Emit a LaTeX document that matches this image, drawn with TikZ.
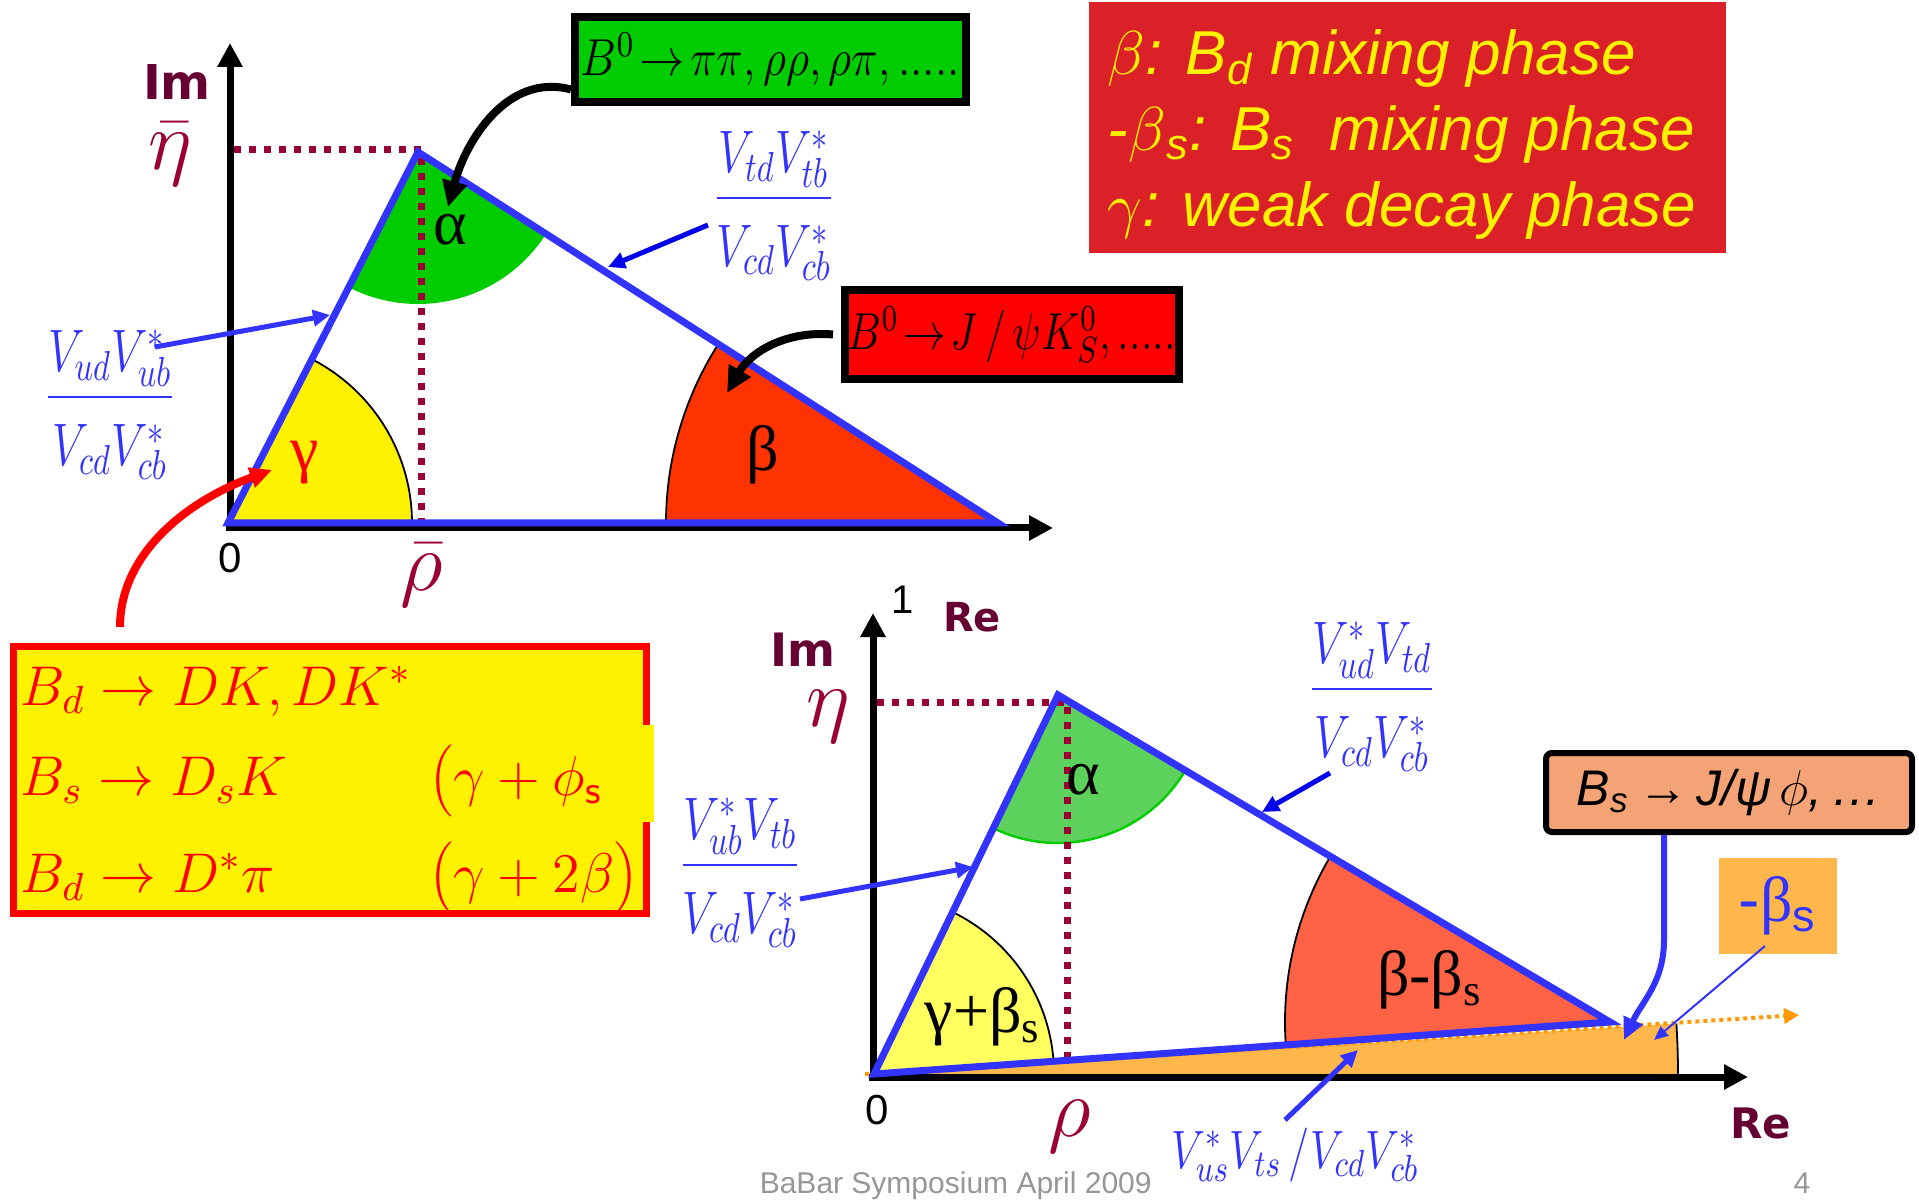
\documentclass[tikz,border=0pt]{standalone}
\usepackage{fix-cm}
\usepackage{graphicx}
\usepackage[no-math]{fontspec}
\setmainfont{Liberation Sans}
\newfontfamily\grk{Liberation Serif}
\newfontfamily\axfont{DejaVu Sans}
\usetikzlibrary{arrows.meta}

\definecolor{triblue}{RGB}{51,51,255}
\definecolor{pureblue}{RGB}{0,0,235}
\definecolor{etared}{RGB}{153,0,51}
\definecolor{axmaroon}{RGB}{102,0,51}
\definecolor{agreen}{RGB}{0,204,0}
\definecolor{bred}{RGB}{255,51,0}
\definecolor{panelred}{RGB}{218,33,40}
\definecolor{salmon}{RGB}{243,163,118}
\definecolor{ofill}{RGB}{255,183,76}
\definecolor{oline}{RGB}{255,153,0}
\definecolor{lgreen}{RGB}{92,210,92}
\definecolor{lred}{RGB}{255,98,68}
\definecolor{lyellow}{RGB}{255,255,95}
\definecolor{footgray}{RGB}{150,150,150}

\newcommand{\fsz}[1]{\fontsize{#1}{#1}\selectfont}
\newcommand{\narrow}[2]{\scalebox{#1}[1]{#2}}
\newcommand{\ckmfrac}[2]{\narrow{0.77}{$\displaystyle\frac{#1}{\rule{0pt}{1.04em}#2}$}}

\begin{document}
\begin{tikzpicture}[
    x=0.25pt, y=0.25pt,
    axis/.style={line width=1.75pt, -{Triangle[length=6pt,width=6pt]}},
    side/.style={triblue, line width=1.75pt},
    etaline/.style={etared, line width=1.75pt, dash pattern=on 1.75pt off 2pt},
    arcline/.style={black, line width=0.45pt},
    barr/.style={triblue, line width=1.25pt, -{Triangle[length=4.25pt,width=4pt]}},
    darr/.style={barr, pureblue},
    thinb/.style={triblue, line width=0.5pt, -{Triangle[length=3.5pt,width=3pt]}},
    curv/.style={black, line width=2pt, -{Triangle[length=6.5pt,width=6pt]}},
    rarr/.style={red, line width=2pt, -{Triangle[length=5.5pt,width=5pt]}},
    oarr/.style={oline, line width=1pt, dash pattern=on 1pt off 1pt, -{Triangle[length=3.75pt,width=3.75pt]}},
    txt/.style={inner sep=0pt},
    axlab/.style={txt, text=axmaroon, font=\axfont\bfseries\fsz{12}},
    etalab/.style={txt, text=etared, font=\fsz{21}},
    num/.style={txt, font=\fsz{10.5}},
    angl/.style={txt, font=\grk\fsz{16}},
    ckm/.style={txt, text=triblue, font=\fsz{15}},
    decbox/.style={draw=black, line width=2pt, inner sep=0pt, font=\fsz{13}},
    dk/.style={txt, text=red, font=\fsz{14}, anchor=base west}
]
\useasboundingbox (0,0) rectangle (1919,1202);

\coordinate (O1) at (228,679);
\coordinate (A1) at (418,1050);
\coordinate (R1) at (998,679);
\fill[yellow] (O1) -- ++(0:184) arc[start angle=0, end angle=62.9, radius=184] -- cycle;
\draw[arcline] (O1) ++(0:184) arc[start angle=0, end angle=62.9, radius=184];
\fill[agreen] (A1) -- ++(242.9:152) arc[start angle=242.9, end angle=327.4, radius=152] -- cycle;
\fill[bred] (R1) -- ++(147.4:332) arc[start angle=147.4, end angle=180, radius=332] -- cycle;
\draw[arcline] (R1) ++(147.4:332) arc[start angle=147.4, end angle=180, radius=332];
\draw[etaline] (234,1052) -- (421,1052) -- (421,682);
\draw[axis] (226,674) -- (1053,674);
\draw[axis] (230,671) -- (230,1159);
\draw[side] (O1) -- (A1) -- (R1) -- cycle;

\node[axlab] (im1) at (177,1120) {Im};
\node[etalab] (eta1) at (170,1048) {$\bar\eta$};
\node[num] (zero1) at (230,644) {0};
\node[etalab] (rho1) at (422,627) {$\bar\rho$};
\node[angl, text=red] (gam1) at (305,739) {γ};
\node[angl] (alp1) at (450,972) {α};
\node[angl] (bet1) at (763,747) {β};

\node[ckm] (vub) at (110,797) {\ckmfrac{V_{ud}V_{ub}^{*}}{V_{cd}V_{cb}^{*}}};
\node[ckm] (vtb) at (774,996) {\ckmfrac{V_{td}V_{tb}^{*}}{V_{cd}V_{cb}^{*}}};
\coordinate (vubS) at (155,855);
\coordinate (vubT) at (330,887);
\coordinate (vtbS) at (708,977);
\coordinate (vtbT) at (608,935);
\draw[barr] (vubS) -- (vubT);
\draw[darr] (vtbS) -- (vtbT);

\node[decbox, fill=agreen, minimum width=97.75pt, minimum height=21.25pt] (pipi) at (770.5,1142.5)
    {\narrow{0.87}{$B^{0}\!\rightarrow\!\pi\pi, \rho\rho, \rho\pi,.....$}};
\node[decbox, fill=red, minimum width=83.5pt, minimum height=22.25pt] (jpsik) at (1012,867.5)
    {\narrow{0.82}{$B^{0}\!\rightarrow\! J\,/\,\psi K_{S}^{0},.....$}};
\coordinate (alpT) at (448,995);
\coordinate (betT) at (727,809);
\draw[curv] ([yshift=-7.5pt]pipi.west) to[out=165,in=75] (alpT);
\draw[curv] ([xshift=-2pt]jpsik.west) to[out=175,in=60] (betT);

\node[fill=panelred, inner sep=0pt, minimum width=159.25pt, minimum height=62.75pt] (phases) at (1407.5,1074.5) {};
\node[txt, anchor=west, align=left, text=yellow, font=\itshape\fontsize{15.5}{19}\selectfont] (phasetxt) at (1107,1068)
    {$\beta$: B\textsubscript{d} mixing phase\\
     -$\beta$\textsubscript{s}: B\textsubscript{s}\ \ mixing phase\\
     $\gamma$: weak decay phase};

\node[draw=red, line width=1.75pt, fill=yellow, inner sep=0pt, minimum width=158.25pt, minimum height=66.75pt] (dkbox) at (330,422) {};
\fill[yellow] (642,380) rectangle (654,477);
\node[dk] (dk1) at (20,497) {$B_d\rightarrow DK, DK^{*}$};
\node[dk] (dk2) at (20,407) {$B_s\rightarrow D_sK$};
\node[dk] (dk3) at (20,310) {$B_d\rightarrow D^{*}\pi$};
\node[dk] (ph2) at (429,407) {$\Bigl(\gamma + \phi_{\mathsf{s}}$};
\node[dk] (ph3) at (429,310) {$\Bigl(\gamma+2\beta\Bigr)$};
\coordinate (gamT) at (272,732);
\draw[rarr, shorten <=4pt] ([xshift=-52.5pt]dkbox.north) to[out=90,in=200] (gamT);

\coordinate (O2) at (874,128);
\coordinate (A2) at (1058,507);
\coordinate (R2) at (1610,180);
\fill[ofill] (O2) -- ++(0:804) arc[start angle=0, end angle=3.6, radius=804] -- cycle;
\draw[arcline] (O2) ++(0:804) arc[start angle=0, end angle=3.6, radius=804];
\fill[lyellow] (O2) -- ++(4:180) arc[start angle=4, end angle=64.1, radius=180] -- cycle;
\draw[arcline] (O2) ++(4:180) arc[start angle=4, end angle=64.1, radius=180];
\fill[lgreen] (A2) -- ++(244.1:148) arc[start angle=244.1, end angle=329.4, radius=148] -- cycle;
\draw[agreen, line width=0.6pt] (A2) ++(244.1:148) arc[start angle=244.1, end angle=329.4, radius=148];
\fill[lred] (R2) -- ++(149.4:325) arc[start angle=149.4, end angle=184, radius=325] -- cycle;
\draw[arcline] (R2) ++(149.4:325) arc[start angle=149.4, end angle=184, radius=325];
\draw[etaline] (877,500) -- (1067,500) -- (1067,141);
\draw[oarr] (865,128) -- (1799,187);
\draw[axis] (869,125) -- (1748,125);
\draw[axis] (873,122) -- (873,589);
\draw[side] (O2) -- (A2) -- (R2) -- cycle;

\node[axlab, font=\axfont\bfseries\fsz{11.5}] (im2) at (803,552) {Im};
\node[num, font=\fsz{10}] (one2) at (903,602) {1};
\node[axlab, font=\axfont\bfseries\fsz{10}] (re2) at (972,585) {Re};
\node[etalab] (eta2) at (828,485) {$\eta$};
\node[num] (zero2) at (877,92) {0};
\node[etalab] (rho2) at (1070,75) {$\rho$};
\node[axlab, font=\axfont\bfseries\fsz{10.5}] (re3) at (1761,79) {Re};
\node[angl] (alp2) at (1083,422) {α};
\node[angl] (gb2) at (983,185) {γ+β\textsubscript{s}};
\node[angl] (bb2) at (1430,222) {β-β\textsubscript{s}};

\node[ckm] (vtbl) at (740,329) {\ckmfrac{V_{ub}^{*}V_{tb}}{V_{cd}V_{cb}^{*}}};
\node[ckm] (vtdr) at (1372,505) {\ckmfrac{V_{ud}^{*}V_{td}}{V_{cd}V_{cb}^{*}}};
\node[ckm, anchor=base, font=\fsz{13.5}] (vus) at (1295,34) {\narrow{0.8}{$V_{us}^{*}V_{ts}\,/V_{cd}V_{cb}^{*}$}};
\coordinate (vtblS) at (800,303);
\coordinate (vtblT) at (973,335);
\coordinate (vtdrS) at (1330,429);
\coordinate (vtdrT) at (1262,390);
\coordinate (vusS) at (1285,82);
\coordinate (vusT) at (1358,152);
\draw[barr] (vtblS) -- (vtblT);
\draw[darr] (vtdrS) -- (vtdrT);
\draw[barr] (vusS) -- (vusT);

\node[draw=black, line width=1.5pt, fill=salmon, rounded corners=1.5pt, inner sep=0pt,
      minimum width=91.5pt, minimum height=19.75pt, font=\itshape\fsz{12.5}] (bsjpsi) at (1729,409.5)
    {B\textsubscript{s}\,{\upshape\bfseries →}\,J/ψ\,$\phi$,\,…};
\node[fill=ofill, inner sep=0pt, minimum width=29.5pt, minimum height=24pt, text=triblue, font=\fsz{16}] (mbs) at (1778,296)
    {-{\grk β}\textsubscript{s}};
\coordinate (bsT) at (1624,162);
\coordinate (mbsS) at (1765,256);
\coordinate (mbsT) at (1654,162);
\draw[barr, line width=1.5pt, -{Triangle[length=5.5pt,width=5pt]}] ([xshift=-16.25pt]bsjpsi.south) -- (1664,262) to[out=-90,in=65] (bsT);
\draw[thinb] (mbsS) -- (mbsT);

\node[txt, anchor=base west, text=footgray, font=\fsz{7.5}] (foot) at (759,9) {BaBar Symposium April 2009};
\node[txt, anchor=base, text=footgray, font=\fsz{7.5}] (pageno) at (1802,9) {4};
\end{tikzpicture}
\end{document}
